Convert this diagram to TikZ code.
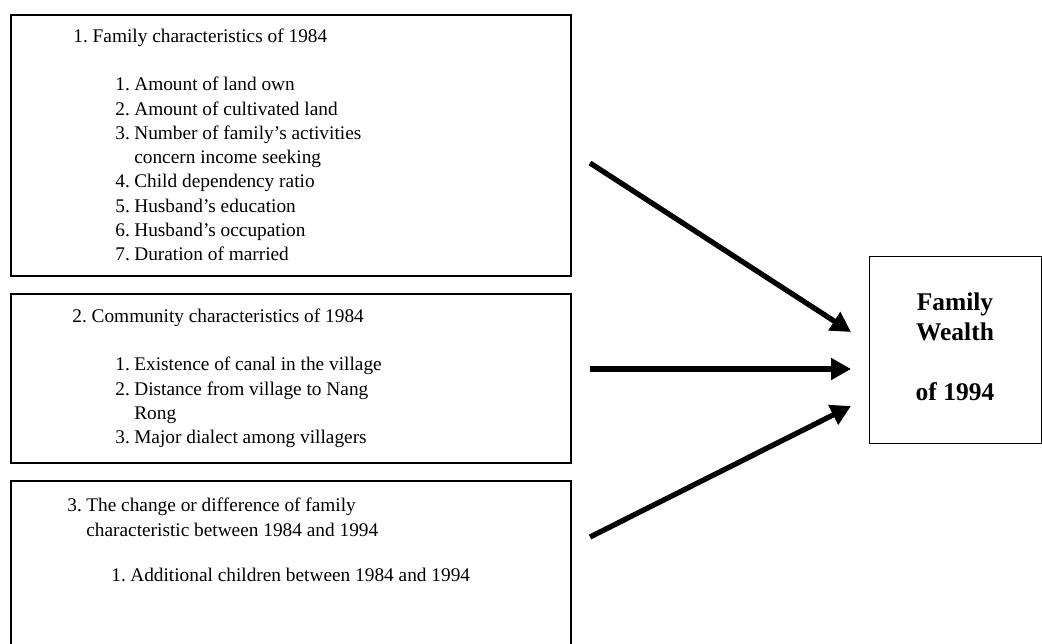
\documentclass[tikz,border=0pt]{standalone}
\usepackage{fontspec}
\setmainfont{Liberation Serif}
\usetikzlibrary{arrows.meta,positioning}
\frenchspacing

\newcommand{\itm}[2]{\makebox[10.8pt][l]{#1.}#2}
\newcommand{\cont}[1]{\hspace*{10.8pt}#1}

\begin{document}
\begin{tikzpicture}[
        x=0.02cm, y=-0.02cm,
        font=\fontsize{11}{13.8}\selectfont,
        factor/.style={draw, line width=1.1pt, anchor=north west, inner sep=0pt},
        txt/.style={anchor=north west, inner sep=0pt, align=left},
        outcome/.style={draw, line width=0.8pt, anchor=north west, inner sep=0pt,
            minimum width=172*0.02cm, minimum height=187*0.02cm},
        bigarr/.style={-{Triangle[length=4mm, width=4.2mm]}, line width=3pt}
    ]
        \useasboundingbox (0,0) rectangle (1042,644);
        \clip (0,0) rectangle (1042,644);

        % left boxes
        \node[factor, minimum width=560*0.02cm, minimum height=261*0.02cm] (fam) at (10,14) {};
        \node[factor, minimum width=560*0.02cm, minimum height=169*0.02cm] (com) at (10,293) {};
        \node[factor, minimum width=560*0.02cm, minimum height=190*0.02cm] (chg) at (10,480) {};

        \node[txt] (famtitle) at (73,29) {1. Family characteristics of 1984};
        \node[txt] (famlist) at (115,77) {\itm{1}{Amount of land own}\\
            \itm{2}{Amount of cultivated land}\\
            \itm{3}{Number of family's activities}\\
            \cont{concern income seeking}\\
            \itm{4}{Child dependency ratio}\\
            \itm{5}{Husband's education}\\
            \itm{6}{Husband's occupation}\\
            \itm{7}{Duration of married}};

        \node[txt] (comtitle) at (72,309) {2. Community characteristics of 1984};
        \node[txt] (comlist) at (115,357) {\itm{1}{Existence of canal in the village}\\
            \itm{2}{Distance from village to Nang}\\
            \cont{Rong}\\
            \itm{3}{Major dialect among villagers}};

        \node[txt] (chgtitle) at (67,498) {\itm{3}{The change or difference of family}\\
            \cont{characteristic between 1984 and 1994}};
        \node[txt] (chglist) at (111,568) {\itm{1}{Additional children between 1984 and 1994}};

        % outcome
        \node[outcome] (wealth) at (869,256) {};
        \node[align=center, font=\fontsize{14.5}{17}\selectfont\bfseries, anchor=north]
            (wealthtxt) at (955,287) {Family\\Wealth\\[17pt]of 1994};

        % arrows
        \coordinate (s1) at (590,163);
        \coordinate (s2) at (590,369);
        \coordinate (s3) at (590,537);
        \coordinate (e1) at (851,332);
        \coordinate (e2) at (851,369);
        \coordinate (e3) at (851,406);
        \draw[bigarr] (s1) -- (e1);
        \draw[bigarr] (s2) -- (e2);
        \draw[bigarr] (s3) -- (e3);
    \end{tikzpicture}
\end{document}
